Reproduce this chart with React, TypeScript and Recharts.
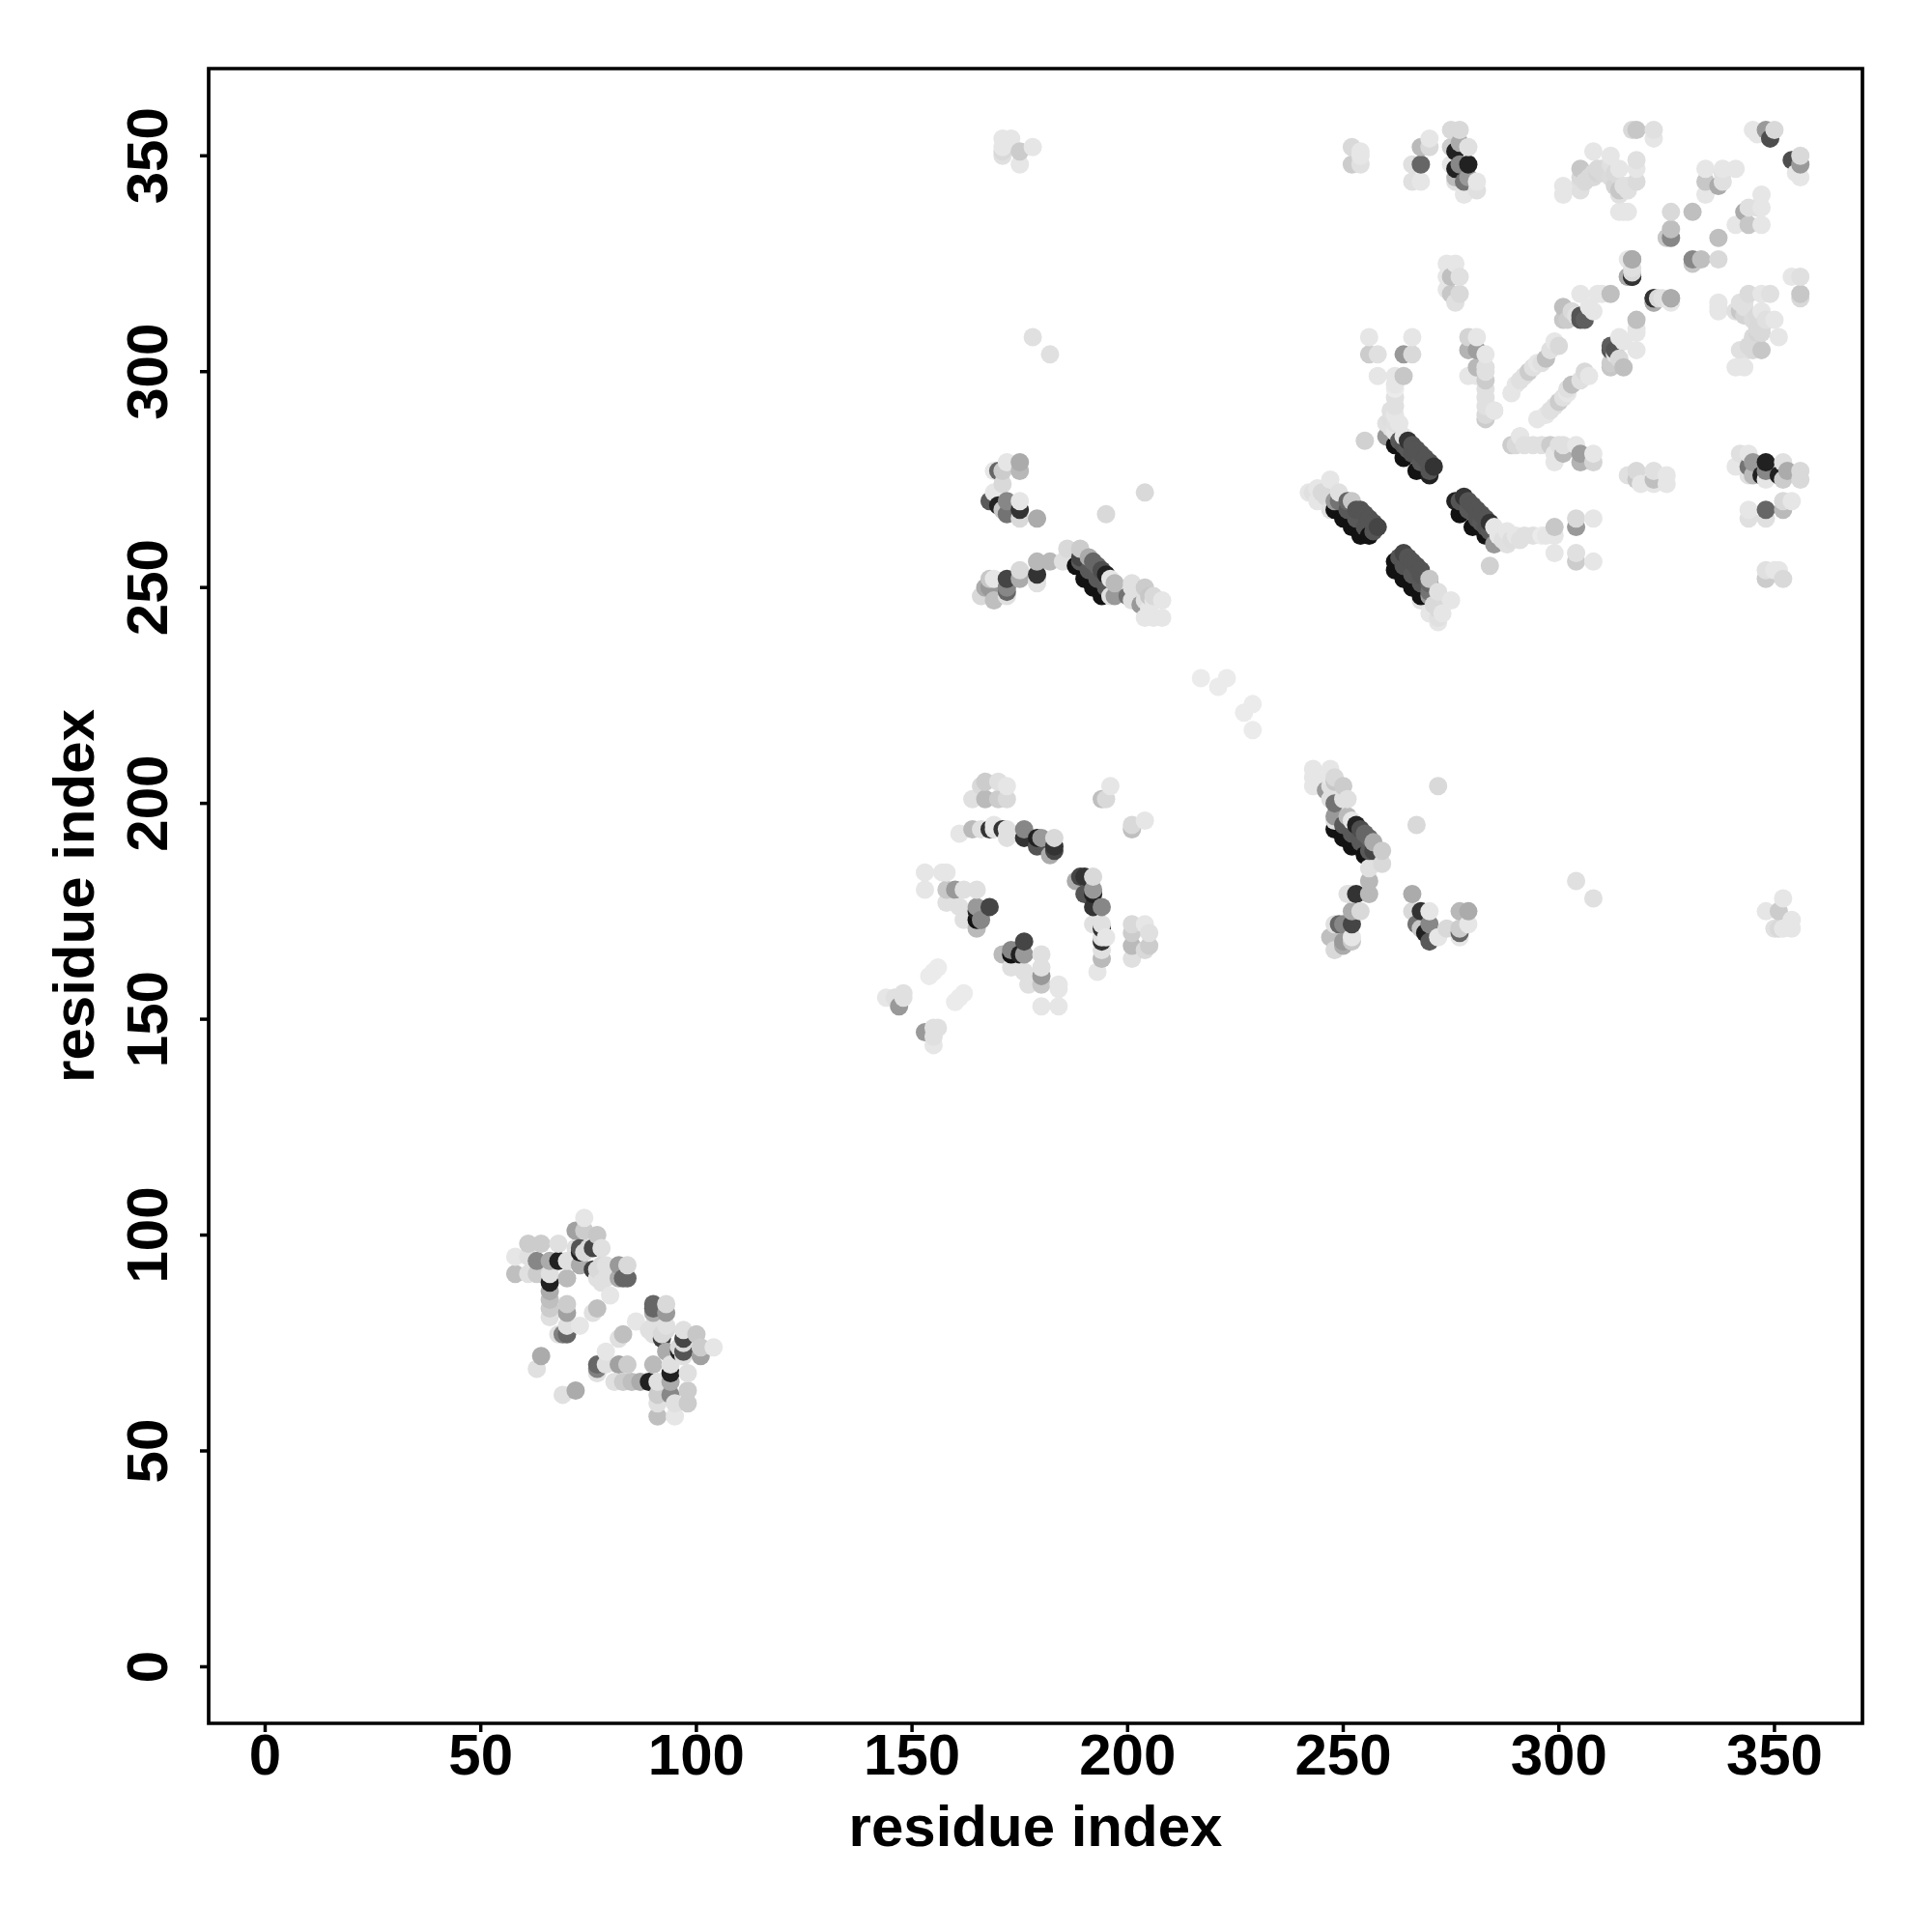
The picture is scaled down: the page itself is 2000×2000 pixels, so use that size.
import React from "react";
import { ScatterChart, Scatter, XAxis, YAxis, ReferenceArea } from "recharts";

// Each entry: [residue i, residue j, contact strength in percent]. The map is symmetric.
const domainA: number[][] = [
  [58,91,25],[58,95,10],[61,91,12],[61,95,12],[61,98,20],[63,69,12],[63,91,20],[63,94,47],[64,72,33],[64,98,20],
  [66,81,12],[66,83,20],[66,85,25],[66,87,33],[66,89,87],[66,91,12],[66,94,33],[68,77,12],[68,94,87],[68,98,12],
  [69,77,50],[70,77,60],[70,79,12],[70,82,37],[70,84,20],[70,90,27],[70,94,12],[72,97,12],[72,101,37],[73,79,10],
  [73,93,33],[73,96,87],[74,96,15],[73,97,67],[75,97,15],[74,101,20],[74,104,10],[76,82,12],[76,92,75],[77,92,15],[76,97,73],[77,83,25],[77,90,12],[77,100,22],
  [78,89,12],[78,93,15],[78,97,12],[79,90,12],[79,93,12],[80,86,10],[82,90,33],[82,93,40],[83,90,60],[84,90,60],[84,93,15],
];
const domainB: number[][] = [
  [144,155,10],[146,155,12],[147,153,40],[148,155,12],[148,156,12],[154,160,8],[155,161,8],[156,162,8],
  [153,180,10],[153,184,10],[157,184,10],[158,177,12],[158,180,22],[158,184,10],[160,180,40],[161,176,12],
  [161,193,10],[162,173,12],[162,180,12],[165,173,93],[164,194,27],[164,201,12],[165,171,27],[165,175,87],
  [165,176,40],[165,180,12],[166,173,47],[166,194,12],[166,204,15],[167,201,27],[167,205,20],[168,176,73],
  [168,194,80],[169,194,12],[169,195,10],[170,201,20],[170,205,12],[171,194,80],[172,192,12],[172,194,12],[172,201,15],
  [172,204,10],[176,192,80],[176,194,47],[179,190,67],[179,192,87],[180,192,40],[182,188,33],[183,189,73],
  [183,190,80],[183,192,15],[194,201,25],[195,201,15],[196,204,10],
];
const domainC: number[][] = [
  [166,248,15],[167,250,33],[168,250,40],[168,252,22],[169,247,25],[169,252,10],[172,248,12],[172,249,60],
  [172,250,47],[172,252,73],[175,252,33],[175,254,15],[179,251,12],[179,252,12],[179,253,80],[179,256,28],
  [182,256,28],[185,256,12],[186,259,15],[188,255,93],[189,256,65],[189,257,73],[189,259,20],[190,252,93],[191,254,65],[191,257,33],
  [192,250,93],[192,256,60],[193,252,65],[193,255,60],[194,248,93],[195,250,65],[194,254,70],[195,253,87],[196,248,12],[196,252,10],[197,248,40],[197,251,27],
  [200,248,55],[201,247,12],[201,250,12],[201,251,12],[203,246,40],[204,243,10],[204,247,12],[204,250,20],
  [205,245,10],[205,248,22],[206,243,10],[206,247,10],[206,248,15],[208,243,10],[208,247,10],
  [168,270,65],[169,272,10],[169,277,10],[170,269,87],[170,277,60],[171,268,22],[171,274,15],[171,277,20],
  [172,267,55],[172,270,47],[172,279,10],[175,266,15],[175,268,80],[175,270,10],[175,277,28],[175,279,33],
  [179,266,33],[195,267,15],[204,272,15],
];
const isolated: number[][] = [
  [217,229,8],[221,227,8],[223,229,8],[178,308,12],[182,304,12],
  [171,350,12],[171,351,15],[171,352,10],[171,354,10],[173,354,10],[175,348,10],[175,351,20],[178,352,10],
];
const stripesLow: number[][] = [
  [242,272,10],[243,272,12],[244,270,10],[244,273,10],[245,272,15],[246,271,15],[247,268,12],[247,275,10],[248,268,93],
  [248,270,40],[249,270,55],[249,272,12],[250,266,93],[251,268,65],[251,270,60],[252,264,93],[252,270,22],[253,266,65],[253,268,67],[254,262,93],[254,268,67],
  [255,264,67],[255,267,67],[256,262,93],[256,266,67],[257,263,67],[257,265,67],[258,264,73],
];
const stripesHigh: number[][] = [
  [255,284,18],[256,304,20],[256,308,10],[258,299,10],[258,304,12],[260,285,40],[260,288,12],[261,287,12],[261,289,13],[261,291,12],
  [262,283,93],[262,286,10],[262,288,12],[262,290,10],[262,292,12],[262,294,12],[262,296,8],[262,297,10],[262,299,10],[263,284,65],[263,288,10],[264,280,93],[264,283,67],
  [264,285,10],[264,299,22],[264,304,40],[265,282,65],[265,284,80],[266,281,67],[266,283,67],[266,304,15],[266,308,10],[267,277,93],[267,282,67],[268,279,65],[268,281,67],
  [269,280,67],[270,276,87],[270,277,67],[270,279,67],[271,278,80],
];
const domainD: number[][] = [
  [252,348,20],[252,352,15],[254,348,12],[254,350,10],[254,351,10],[266,344,12],[266,348,12],[268,344,10],
  [268,348,60],[268,352,27],[270,352,15],[270,354,10],[275,348,10],[275,352,20],[275,356,15],[276,344,12],
  [276,345,27],[276,347,87],[276,351,87],[277,348,47],[277,353,33],[277,356,15],[278,341,10],[278,344,55],
  [279,345,40],[279,348,87],[279,352,12],[281,342,12],[281,344,10],
  [274,319,10],[274,322,10],[274,325,10],[275,318,22],[275,322,25],[276,316,12],[276,325,10],[277,318,15],[277,322,12],
  [279,299,10],[279,305,30],[279,308,17],[281,299,10],[281,301,28],[281,305,38],[281,308,10],
  [283,289,20],[283,290,15],[283,292,12],[283,294,12],[283,296,12],[283,298,20],[283,300,12],[283,301,12],[283,304,10],[285,291,15],[291,285,10],
];
const domainE: number[][] = [
  [289,295,10],[290,297,10],[291,298,12],[292,299,12],[293,300,20],[294,301,12],[295,302,10],[296,302,12],[297,303,25],
  [298,305,12],[299,306,12],[299,307,10],[300,306,15],
  [301,312,22],[301,315,25],[302,312,20],[303,314,15],[304,313,12],[305,312,67],[305,313,67],[305,318,10],
  [306,312,63],[307,315,10],[308,314,10],[309,318,10],[310,318,10],[312,318,25],
  [301,341,10],[301,343,10],[305,342,12],[305,344,12],[305,345,15],[305,347,22],[306,344,15],[307,345,15],[308,345,15],[308,346,15],[308,351,10],[309,346,17],[309,347,15],
  [310,346,15],[310,347,15],[311,347,15],[312,345,14],[312,348,12],[312,350,10],[313,343,17],[313,346,15],[314,337,10],[314,341,12],[314,342,22],[314,347,10],
  [315,337,10],[315,343,12],[316,337,10],[316,342,12],[316,343,12],[318,344,14],[318,347,10],[318,349,12],[317,356,15],[318,356,22],
  [322,354,10],[322,356,12],
  [316,322,22],[316,326,10],[317,322,80],[317,323,15],[317,326,33],[322,316,33],[322,317,80],[324,317,12],[326,317,33],
  [325,331,22],[326,331,47],[326,333,25],[326,337,15],[331,337,25],
  [334,341,10],[334,344,22],[334,347,10],[337,343,33],[338,344,12],[338,346,12],[338,347,10],[341,347,10],
  [345,356,10],[346,355,10],[348,356,40],[349,354,70],[350,356,15],
];

const tickValues: number[] = [0, 50, 100, 150, 200, 250, 300, 350];
const axisTitle = "residue index";

const pairs: number[][] = [
  ...domainA, ...domainB, ...domainC, ...isolated, ...stripesLow, ...stripesHigh, ...domainD, ...domainE,
];
const points = pairs
  .flatMap(([i, j, s]) => [{ x: i, y: j, s }, { x: j, y: i, s }])
  .sort((p, q) => p.x - q.x || p.y - q.y);

const FONT = "'Liberation Sans', Arial, sans-serif";
const LOW = -13.1;
const HIGH_X = 370.4;
const HIGH_Y = 370.2;

const grayOf = (s: number) => {
  const v = Math.round(255 * (1 - s / 100));
  return `rgb(${v},${v},${v})`;
};

const Dot = (props: any) => (
  <circle cx={props.cx} cy={props.cy} r={9.5} fill={grayOf(props.payload.s)} />
);

const XTick = ({ x, y, payload }: any) => (
  <text x={x} y={y + 42} textAnchor="middle" fontFamily={FONT} fontWeight={700} fontSize={60} fill="#000">
    {payload.value}
  </text>
);
const YTick = ({ x, y, payload }: any) => (
  <text
    transform={`translate(${x - 32},${y}) rotate(-90)`}
    textAnchor="middle"
    fontFamily={FONT}
    fontWeight={700}
    fontSize={60}
    fill="#000"
  >
    {payload.value}
  </text>
);

const XTitle = ({ viewBox }: any) => (
  <text
    x={viewBox.x + viewBox.width / 2}
    y={1911}
    textAnchor="middle"
    fontFamily={FONT}
    fontWeight={700}
    fontSize={60}
    fill="#000"
  >
    {axisTitle}
  </text>
);
const YTitle = ({ viewBox }: any) => (
  <text
    transform={`translate(97,${viewBox.y + viewBox.height / 2}) rotate(-90)`}
    textAnchor="middle"
    fontFamily={FONT}
    fontWeight={700}
    fontSize={60}
    fill="#000"
  >
    {axisTitle}
  </text>
);

export default function App() {
  return (
    <div style={{ position: "absolute", left: 0, top: 0, width: 2000, height: 2000, background: "#fff" }}>
      <ScatterChart width={2000} height={2000} margin={{ top: 71, right: 72, bottom: 0, left: 0 }}>
        <XAxis
          type="number"
          dataKey="x"
          domain={[LOW, HIGH_X]}
          ticks={tickValues}
          height={216}
          axisLine={false}
          tickSize={9}
          tickLine={{ stroke: "#000", strokeWidth: 3.5 }}
          tick={<XTick />}
          interval={0}
          allowDataOverflow
          label={<XTitle />}
        />
        <YAxis
          type="number"
          dataKey="y"
          domain={[LOW, HIGH_Y]}
          ticks={tickValues}
          width={216}
          axisLine={false}
          tickSize={9}
          tickLine={{ stroke: "#000", strokeWidth: 3.5 }}
          tick={<YTick />}
          interval={0}
          allowDataOverflow
          label={<YTitle />}
        />
        <Scatter data={points} isAnimationActive={false} shape={<Dot />} />
        <ReferenceArea x1={LOW} x2={HIGH_X} y1={LOW} y2={HIGH_Y} fill="none" stroke="#000" strokeWidth={3.7} ifOverflow="visible" />
      </ScatterChart>
    </div>
  );
}
